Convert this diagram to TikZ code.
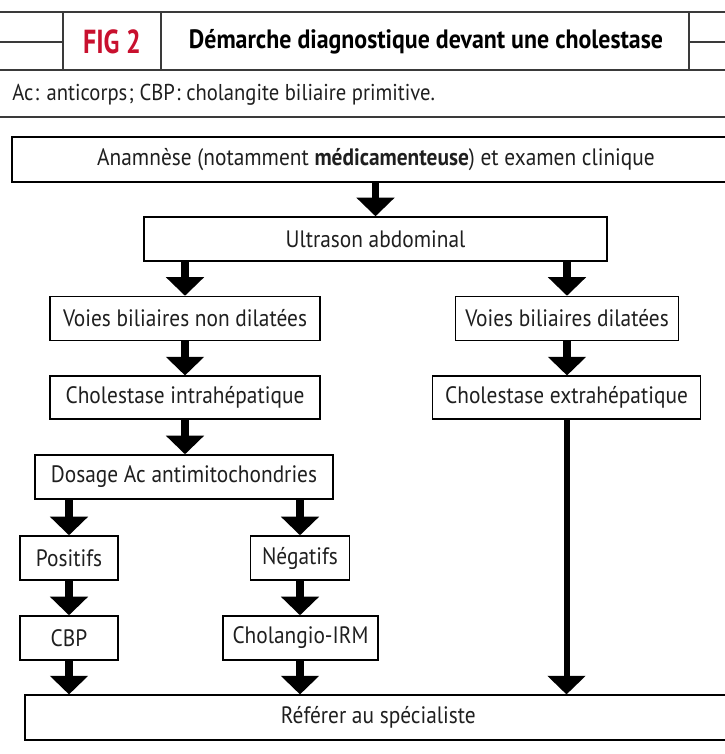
\documentclass[tikz,border=0pt]{standalone}
\usepackage{fontspec}
\setmainfont{PT Sans}[FakeStretch=0.9]
\newfontfamily\figfont{PT Sans}[FakeStretch=0.78]
\usetikzlibrary{arrows.meta}
\definecolor{figred}{HTML}{C8102E}
\definecolor{rule}{HTML}{3A3A3A}
\begin{document}
\begin{tikzpicture}[x=0.75pt,y=-0.75pt,
  box/.style={draw=black, line width=1.1pt, inner sep=0pt, fill=white,
    font=\fontsize{17.8}{20}\selectfont, text=black!88},
  flow/.style={line width=5.5pt, -{Triangle[width=28pt,length=14pt]}},
  longflow/.style={line width=4.5pt, -{Triangle[width=28pt,length=14pt]}},
  headrule/.style={draw=rule, line width=1pt}]
\useasboundingbox (0,0) rectangle (725,754);

% header band
\draw[headrule] (0,12) -- (725,12);
\draw[headrule] (0,70) -- (725,70);
\draw[headrule] (0,42) -- (63,42);
\draw[headrule] (689,42) -- (725,42);
\draw[headrule] (63,12) -- (63,70);
\draw[headrule] (161,12) -- (161,70);
\draw[headrule] (689,12) -- (689,70);
\node (fig) at (112,42) {\figfont\bfseries\fontsize{25}{27}\selectfont\color{figred}FIG 2};
\node (title) at (426,42) {\bfseries\fontsize{19.9}{22}\selectfont Démarche diagnostique devant une cholestase};
\node[anchor=west, inner sep=0pt, text=black!88] (legend) at (12,95) {\fontsize{17.2}{20}\selectfont Ac\kern1pt: anticorps\kern1pt; CBP\kern1pt: cholangite biliaire primitive.};
\draw[draw=rule, line width=1.5pt] (0,117) -- (725,117);

% boxes
\node[box, minimum width=546pt, minimum height=33.5pt] (anam) at (376,159.5)
  {Anamnèse (notamment \textbf{médicamenteuse}) et examen clinique};
\node[box, minimum width=347pt, minimum height=33pt] (ultra) at (375.5,239)
  {Ultrason abdominal};
\node[box, minimum width=202.5pt, minimum height=33pt] (vnon) at (185,318.5)
  {Voies biliaires non dilatées};
\node[box, minimum width=167pt, minimum height=33pt] (vdil) at (567,318.5)
  {Voies biliaires dilatées};
\node[box, minimum width=202.5pt, minimum height=32pt] (cintra) at (185,397.5)
  {Cholestase intrahépatique};
\node[box, minimum width=201pt, minimum height=32pt] (cextra) at (566.5,397.5)
  {Cholestase extrahépatique};
\node[box, minimum width=223.5pt, minimum height=33pt] (dosage) at (184,477)
  {Dosage Ac antimitochondries};
\node[box, minimum width=73.5pt, minimum height=33pt] (pos) at (69,558)
  {Positifs};
\node[box, minimum width=74pt, minimum height=33pt] (neg) at (300,558)
  {Négatifs};
\node[box, minimum width=73.5pt, minimum height=33pt] (cbp) at (69,638)
  {CBP};
\node[box, minimum width=116pt, minimum height=33pt] (irm) at (300.5,638)
  {Cholangio-IRM};
\node[box, minimum width=537pt, minimum height=33.5pt] (refer) at (383,717.5)
  {\hspace*{-7pt}Référer au spécialiste};

% connectors
\draw[flow] (anam.south -| ultra.north) -- (ultra.north);
\draw[flow] (ultra.south -| vnon.north) -- (vnon.north);
\draw[flow] (ultra.south -| vdil.north) -- (vdil.north);
\draw[flow] (vnon.south) -- (cintra.north -| vnon.south);
\draw[flow] (vdil.south) -- (cextra.north -| vdil.south);
\draw[flow] (cintra.south) -- (dosage.north -| cintra.south);
\draw[flow] (dosage.south -| pos.north) -- (pos.north);
\draw[flow] (dosage.south -| neg.north) -- (neg.north);
\draw[flow] (pos.south) -- (cbp.north);
\draw[flow] (neg.south) -- (irm.north -| neg.south);
\draw[flow] (cbp.south) -- (refer.north -| cbp.south);
\draw[flow] (irm.south -| neg.south) -- (refer.north -| neg.south);
\draw[longflow] (cextra.south) -- (refer.north -| cextra.south);
\end{tikzpicture}
\end{document}
